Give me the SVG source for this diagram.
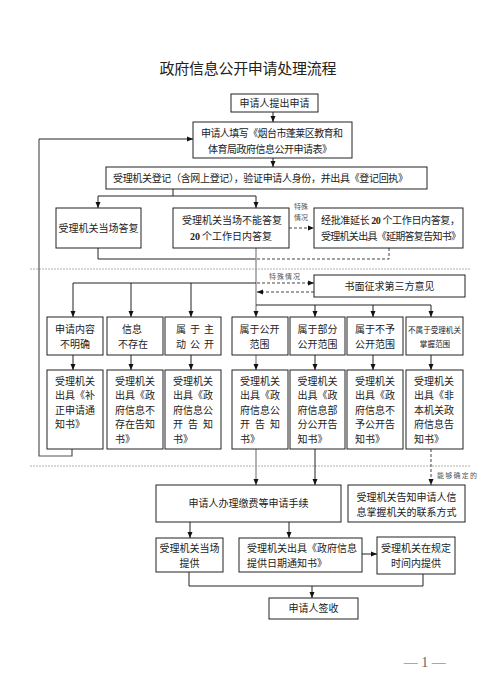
<svg xmlns="http://www.w3.org/2000/svg" width="500" height="684" viewBox="0 0 500 684">
<style>
  .bx { fill: #fff; stroke: #222; stroke-width: 1; }
  .t { font-family: "Noto Sans CJK SC", "Noto Sans", sans-serif; font-size: 10px; fill: #222; }
  .c { text-anchor: middle; }
  .sm { font-family: "Noto Sans CJK SC", sans-serif; font-size: 7px; fill: #555; }
  .ln { fill: none; stroke: #222; stroke-width: 1; }
  .gl { fill: none; stroke: #8a8a8a; stroke-width: 1.3; }
  .ds { fill: none; stroke: #444; stroke-width: 1; stroke-dasharray: 3 2; }
  .sep { fill: none; stroke: #b0b0b0; stroke-width: 1; stroke-dasharray: 2 1; }
  .num { font-family: "Liberation Serif", serif; font-weight: bold; }
</style>
<defs>
  <marker id="ah" markerUnits="userSpaceOnUse" markerWidth="6" markerHeight="6" refX="6" refY="3" orient="auto">
    <path d="M0,0.5 L6,3 L0,5.5 z" fill="#111"/>
  </marker>
</defs>

<text class="t c" x="248" y="74" style="font-size:15px" textLength="177">政府信息公开申请处理流程</text>

<g id="separators">
  <line class="sep" x1="30" y1="269" x2="470" y2="269"/>
  <line class="sep" x1="30" y1="466" x2="470" y2="466"/>
</g>

<g id="connectors">
  <line class="ln" x1="273" y1="112" x2="273" y2="122" marker-end="url(#ah)"/>
  <line class="ln" x1="273" y1="158" x2="273" y2="167" marker-end="url(#ah)"/>
  <polyline class="ln" points="173,189 173,196"/>
  <polyline class="ln" points="98,196 256,196"/>
  <line class="ln" x1="98" y1="196" x2="98" y2="208" marker-end="url(#ah)"/>
  <line class="ln" x1="256" y1="196" x2="256" y2="208" marker-end="url(#ah)"/>
  <line class="ds" x1="289" y1="228" x2="314" y2="228" marker-end="url(#ah)"/>
  <polyline class="ln" points="98,248 98,259 256,259"/>
  <polyline class="ds" points="389,248 389,259 256,259"/>
  <line class="gl" x1="256" y1="248" x2="256" y2="317" marker-end="url(#ah)"/>
  <polyline class="ln" points="256,283 73,283"/>
  <line class="ln" x1="73" y1="283" x2="73" y2="317" marker-end="url(#ah)"/>
  <line class="ln" x1="131" y1="283" x2="131" y2="317" marker-end="url(#ah)"/>
  <line class="ln" x1="191" y1="283" x2="191" y2="317" marker-end="url(#ah)"/>
  <line class="ds" x1="257" y1="283" x2="314" y2="283" marker-end="url(#ah)"/>
  <line class="ds" x1="314" y1="292" x2="257" y2="292" marker-end="url(#ah)"/>
  <polyline class="ln" points="256,305 431,305"/>
  <line class="ln" x1="315" y1="305" x2="315" y2="317" marker-end="url(#ah)"/>
  <line class="ln" x1="373" y1="305" x2="373" y2="317" marker-end="url(#ah)"/>
  <line class="ln" x1="431" y1="305" x2="431" y2="317" marker-end="url(#ah)"/>
  <line class="ln" x1="73" y1="355" x2="73" y2="370" marker-end="url(#ah)"/>
  <line class="ln" x1="131" y1="355" x2="131" y2="370" marker-end="url(#ah)"/>
  <line class="ln" x1="191" y1="355" x2="191" y2="370" marker-end="url(#ah)"/>
  <line class="gl" x1="256" y1="355" x2="256" y2="370" marker-end="url(#ah)"/>
  <line class="ln" x1="315" y1="355" x2="315" y2="370" marker-end="url(#ah)"/>
  <line class="ln" x1="373" y1="355" x2="373" y2="370" marker-end="url(#ah)"/>
  <line class="ln" x1="431" y1="355" x2="431" y2="370" marker-end="url(#ah)"/>
  <polyline class="gl" points="72,449 72,456 39,456 39,139" style="stroke:#555;stroke-width:1.2"/>
  <line class="ln" x1="39" y1="139" x2="193" y2="139" marker-end="url(#ah)"/>
  <line class="gl" x1="256" y1="449" x2="256" y2="485" marker-end="url(#ah)"/>
  <line class="ln" x1="315" y1="449" x2="315" y2="485" marker-end="url(#ah)"/>
  <line class="ds" x1="431" y1="449" x2="431" y2="485" marker-end="url(#ah)"/>
  <line class="ln" x1="190" y1="522" x2="190" y2="538" marker-end="url(#ah)"/>
  <line class="ln" x1="289" y1="522" x2="289" y2="538" marker-end="url(#ah)"/>
  <line class="ln" x1="362" y1="554" x2="377" y2="554" marker-end="url(#ah)"/>
  <polyline class="ln" points="189,572 189,586 423,586 423,574"/>
  <line class="ln" x1="312" y1="586" x2="312" y2="598" marker-end="url(#ah)"/>
</g>

<g id="labels">
  <text class="sm" x="294" y="209">特殊</text>
  <text class="sm" x="294" y="220">情况</text>
  <text class="sm" x="269" y="279" textLength="31">特殊情况</text>
  <text class="sm" x="437" y="478" textLength="40">能够确定的</text>
</g>

<g id="n1"><rect class="bx" x="231" y="94" width="87" height="18"/>
  <text class="t c" x="274.5" y="107">申请人提出申请</text></g>

<g id="n2"><rect class="bx" x="193" y="122" width="159" height="36"/>
  <text class="t" x="201" y="137" textLength="142">申请人填写《烟台市蓬莱区教育和</text>
  <text class="t" x="208" y="153" textLength="124">体育局政府信息公开申请表》</text></g>

<g id="n3"><rect class="bx" x="106" y="167" width="321" height="22"/>
  <text class="t" x="113" y="182" textLength="295">受理机关登记（含网上登记），验证申请人身份，并出具《登记回执》</text></g>

<g id="n4"><rect class="bx" x="56" y="208" width="85" height="40"/>
  <text class="t c" x="98.5" y="232">受理机关当场答复</text></g>

<g id="n5"><rect class="bx" x="173" y="208" width="116" height="40"/>
  <text class="t c" x="232" y="224">受理机关当场不能答复</text>
  <text class="t c" x="231" y="240"><tspan class="num">20</tspan> 个工作日内答复</text></g>

<g id="n6"><rect class="bx" x="314" y="208" width="149" height="40"/>
  <text class="t" x="321" y="224" textLength="139">经批准延长 <tspan class="num">20</tspan> 个工作日内答复，</text>
  <text class="t" x="321" y="240" textLength="140">受理机关出具《延期答复告知书》</text></g>

<g id="n7"><rect class="bx" x="314" y="275" width="151" height="22"/>
  <text class="t c" x="389.5" y="290">书面征求第三方意见</text></g>

<g id="r1a"><rect class="bx" x="47" y="317" width="56" height="38"/>
  <text class="t c" x="75" y="333">申请内容</text><text class="t c" x="75" y="348">不明确</text></g>
<g id="r1b"><rect class="bx" x="107" y="317" width="56" height="38"/>
  <text class="t c" x="132" y="333">信息</text><text class="t c" x="133" y="348">不存在</text></g>
<g id="r1c"><rect class="bx" x="165" y="317" width="56" height="38"/>
  <text class="t" x="176" y="333" textLength="38">属于主</text><text class="t" x="176" y="348" textLength="38">动公开</text></g>
<g id="r1d"><rect class="bx" x="232" y="317" width="56" height="38"/>
  <text class="t c" x="259.5" y="333">属于公开</text><text class="t c" x="259.5" y="348">范围</text></g>
<g id="r1e"><rect class="bx" x="290" y="317" width="55" height="38"/>
  <text class="t c" x="317.5" y="333">属于部分</text><text class="t c" x="317.5" y="348">公开范围</text></g>
<g id="r1f"><rect class="bx" x="347" y="317" width="56" height="38"/>
  <text class="t c" x="375" y="333">属于不予</text><text class="t c" x="375" y="348">公开范围</text></g>
<g id="r1g"><rect class="bx" x="406" y="317" width="57" height="38"/>
  <text class="t" x="408" y="333" style="font-size:7.6px" textLength="53">不属于受理机关</text><text class="t c" x="435" y="347" style="font-size:7.6px">掌握范围</text></g>

<g id="r2a"><rect class="bx" x="47" y="370" width="56" height="79"/>
  <text class="t" x="55" y="384.5" textLength="40">受理机关</text>
  <text class="t" x="55" y="399" textLength="40">出具《补</text>
  <text class="t" x="55" y="413.5" textLength="40">正申请通</text>
  <text class="t" x="55" y="428">知书》</text></g>
<g id="r2b"><rect class="bx" x="107" y="370" width="56" height="79"/>
  <text class="t" x="115" y="384.5" textLength="40">受理机关</text>
  <text class="t" x="115" y="399" textLength="40">出具《政</text>
  <text class="t" x="115" y="413.5" textLength="40">府信息不</text>
  <text class="t" x="115" y="428" textLength="40">存在告知</text>
  <text class="t" x="115" y="442.5">书》</text></g>
<g id="r2c"><rect class="bx" x="165" y="370" width="56" height="79"/>
  <text class="t" x="173" y="384.5" textLength="40">受理机关</text>
  <text class="t" x="173" y="399" textLength="40">出具《政</text>
  <text class="t" x="173" y="413.5" textLength="40">府信息公</text>
  <text class="t" x="173" y="428" textLength="40">开告知</text>
  <text class="t" x="173" y="442.5">书》</text></g>
<g id="r2d"><rect class="bx" x="232" y="370" width="56" height="79"/>
  <text class="t" x="240" y="384.5" textLength="40">受理机关</text>
  <text class="t" x="240" y="399" textLength="40">出具《政</text>
  <text class="t" x="240" y="413.5" textLength="40">府信息公</text>
  <text class="t" x="240" y="428" textLength="40">开告知</text>
  <text class="t" x="240" y="442.5">书》</text></g>
<g id="r2e"><rect class="bx" x="290" y="370" width="55" height="79"/>
  <text class="t" x="297.5" y="384.5" textLength="40">受理机关</text>
  <text class="t" x="297.5" y="399" textLength="40">出具《政</text>
  <text class="t" x="297.5" y="413.5" textLength="40">府信息部</text>
  <text class="t" x="297.5" y="428" textLength="40">分公开告</text>
  <text class="t" x="297.5" y="442.5">知书》</text></g>
<g id="r2f"><rect class="bx" x="347" y="370" width="56" height="79"/>
  <text class="t" x="355" y="384.5" textLength="40">受理机关</text>
  <text class="t" x="355" y="399" textLength="40">出具《政</text>
  <text class="t" x="355" y="413.5" textLength="40">府信息不</text>
  <text class="t" x="355" y="428" textLength="40">予公开告</text>
  <text class="t" x="355" y="442.5">知书》</text></g>
<g id="r2g"><rect class="bx" x="406" y="370" width="57" height="79"/>
  <text class="t" x="414" y="384.5" textLength="40">受理机关</text>
  <text class="t" x="414" y="399" textLength="40">出具《非</text>
  <text class="t" x="414" y="413.5" textLength="40">本机关政</text>
  <text class="t" x="414" y="428" textLength="40">府信息告</text>
  <text class="t" x="414" y="442.5">知书》</text></g>

<g id="n8"><rect class="bx" x="156" y="485" width="185" height="37"/>
  <text class="t c" x="248.5" y="507">申请人办理缴费等申请手续</text></g>
<g id="n9"><rect class="bx" x="348" y="485" width="117" height="37"/>
  <text class="t c" x="406.5" y="500.5">受理机关告知申请人信</text>
  <text class="t c" x="406.5" y="515.5">息掌握机关的联系方式</text></g>
<g id="n10"><rect class="bx" x="156" y="538" width="67" height="34"/>
  <text class="t c" x="189.5" y="552">受理机关当场</text>
  <text class="t c" x="189.5" y="566.5">提供</text></g>
<g id="n11"><rect class="bx" x="239" y="538" width="123" height="34"/>
  <text class="t" x="247" y="552">受理机关出具《政府信息</text>
  <text class="t" x="247" y="566.5">提供日期通知书》</text></g>
<g id="n12"><rect class="bx" x="377" y="537" width="78" height="37"/>
  <text class="t c" x="416" y="552">受理机关在规定</text>
  <text class="t c" x="416" y="566.5">时间内提供</text></g>
<g id="n13"><rect class="bx" x="269" y="598" width="89" height="21"/>
  <text class="t c" x="313.5" y="612">申请人签收</text></g>

<text x="424.7" y="667" style="font-family:'Liberation Serif',serif;font-size:14px;fill:#666;text-anchor:middle">— 1 —</text>
</svg>
